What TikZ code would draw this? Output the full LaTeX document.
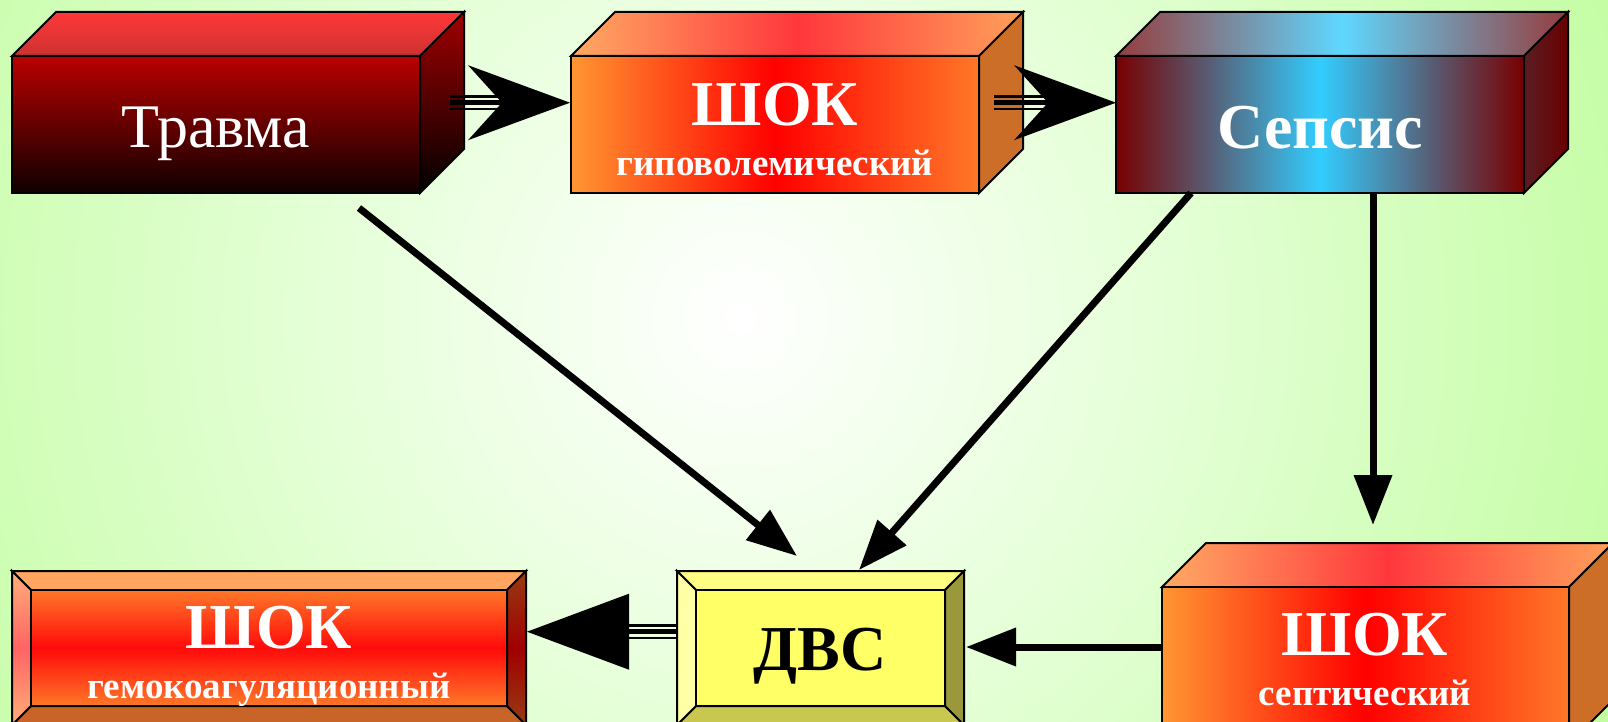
\documentclass[tikz,border=0pt]{standalone}
\usepackage{fontspec}
\setmainfont{Liberation Serif}
\usetikzlibrary{arrows.meta}
\definecolor{bggreen}{RGB}{170,250,122}
\definecolor{bgout}{RGB}{182,252,142}
\definecolor{bgmid}{RGB}{228,255,214}
\definecolor{trA}{RGB}{185,0,0}
\definecolor{trB}{RGB}{15,0,0}
\definecolor{trTopA}{RGB}{255,55,55}
\definecolor{trTopB}{RGB}{205,50,50}
\definecolor{trSide}{RGB}{160,0,0}
\definecolor{orL}{RGB}{255,150,50}
\definecolor{orM}{RGB}{255,0,0}
\definecolor{orR}{RGB}{255,120,40}
\definecolor{orTL}{RGB}{255,170,100}
\definecolor{orTM}{RGB}{255,55,60}
\definecolor{orTR}{RGB}{255,160,90}
\definecolor{orSide}{RGB}{205,110,40}
\definecolor{seE}{RGB}{120,0,0}
\definecolor{seM}{RGB}{50,205,255}
\definecolor{seTE}{RGB}{150,60,60}
\definecolor{seTM}{RGB}{95,215,255}
\definecolor{seSA}{RGB}{90,30,35}
\definecolor{seSB}{RGB}{105,0,0}
\definecolor{gmIE}{RGB}{255,120,40}
\definecolor{gmIM}{RGB}{255,10,10}
\definecolor{gmTop}{RGB}{255,165,95}
\definecolor{gmLE}{RGB}{255,175,120}
\definecolor{gmLM}{RGB}{255,100,100}
\definecolor{gmRE}{RGB}{150,60,20}
\definecolor{gmRM}{RGB}{160,0,0}
\definecolor{gmBot}{RGB}{200,100,40}
\definecolor{yIn}{RGB}{255,255,102}
\definecolor{yTop}{RGB}{255,255,130}
\definecolor{yLeft}{RGB}{255,255,165}
\definecolor{yRight}{RGB}{153,153,60}
\definecolor{yBot}{RGB}{200,200,80}
\pgfdeclareradialshading{bgshade}{\pgfpoint{0bp}{0bp}}{color(0bp)=(white); color(12bp)=(bgmid); color(32bp)=(bgout); color(44bp)=(bggreen); color(75bp)=(bggreen)}
\begin{document}
\begin{tikzpicture}[x=1pt,y=-1pt,
  face/.style={draw=black, line width=2pt, line join=miter},
  conn/.style={line width=7pt, -{Triangle[length=50pt,width=37pt]}},
  thinl/.style={line width=2.4pt},
  thickl/.style={line width=5.5pt},
  head/.style={fill=black},
  title/.style={text=white, font=\fontsize{64}{64}\selectfont\bfseries, anchor=base, inner sep=0pt},
  plain/.style={text=white, font=\fontsize{62}{62}\selectfont, anchor=base, inner sep=0pt},
  sub/.style={text=white, font=\fontsize{37}{37}\selectfont\bfseries, anchor=base, inner sep=0pt}]
\useasboundingbox (0,0) rectangle (1608,722);
\begin{scope}
\clip (0,0) rectangle (1608,722);
\shade[shading=bgshade] (-160,-582) rectangle (1640,1218);

% Travma box
\shade[face, top color=trTopA, bottom color=trTopB] (12,56) -- (56,12) -- (464,12) -- (420,56) -- cycle;
\shade[face, top color=trSide, bottom color=black] (420,56) -- (464,12) -- (464,149) -- (420,193) -- cycle;
\shade[face, top color=trA, bottom color=trB] (12,56) rectangle (420,193);
\node[plain] (trauma) at (216,148) {Травма};

% Shock hypovolemic box
\shade[face, left color=orTL, right color=orTR, middle color=orTM] (571,56) -- (615,12) -- (1023,12) -- (979,56) -- cycle;
\fill[face, fill=orSide] (979,56) -- (1023,12) -- (1023,149) -- (979,193) -- cycle;
\shade[face, left color=orL, right color=orR, middle color=orM] (571,56) rectangle (979,193);
\node[title] (shockA) at (775,126) {ШОК};
\node[sub] (shockAsub) at (775,176) {гиповолемический};

% Sepsis box
\shade[face, left color=seTE, right color=seTE, middle color=seTM] (1116,56) -- (1160,12) -- (1568,12) -- (1524,56) -- cycle;
\shade[face, left color=seSA, right color=seSB] (1524,56) -- (1568,12) -- (1568,149) -- (1524,193) -- cycle;
\shade[face, left color=seE, right color=seE, middle color=seM] (1116,56) rectangle (1524,193);
\node[title] (sepsis) at (1320,149) {Сепсис};

% Shock septic box
\shade[face, left color=orTL, right color=orTR, middle color=orTM] (1162,587) -- (1206,543) -- (1613,543) -- (1569,587) -- cycle;
\fill[face, fill=orSide] (1569,587) -- (1613,543) -- (1613,700) -- (1569,744) -- cycle;
\shade[face, left color=orL, right color=orR, middle color=orM] (1162,587) rectangle (1569,744);
\node[title] (shockC) at (1365,655) {ШОК};
\node[sub] (shockCsub) at (1365,705) {септический};

% Shock hemocoagulation box (bevel)
\fill[face, fill=gmTop] (12,571) -- (526,571) -- (507,590) -- (31,590) -- cycle;
\fill[face, fill=gmBot] (12,725) -- (526,725) -- (507,706) -- (31,706) -- cycle;
\shade[face, top color=gmLE, bottom color=gmLE, middle color=gmLM] (12,571) -- (31,590) -- (31,706) -- (12,725) -- cycle;
\shade[face, top color=gmRE, bottom color=gmRE, middle color=gmRM] (526,571) -- (507,590) -- (507,706) -- (526,725) -- cycle;
\shade[face, top color=gmIE, bottom color=gmIE, middle color=gmIM] (31,590) rectangle (507,706);
\node[title] (shockB) at (269,648) {ШОК};
\node[sub] (shockBsub) at (269,698) {гемокоагуляционный};

% DVS box (bevel)
\fill[face, fill=yTop] (677,571) -- (964,571) -- (945,590) -- (696,590) -- cycle;
\fill[face, fill=yBot] (677,725) -- (964,725) -- (945,706) -- (696,706) -- cycle;
\fill[face, fill=yLeft] (677,571) -- (696,590) -- (696,706) -- (677,725) -- cycle;
\fill[face, fill=yRight] (964,571) -- (945,590) -- (945,706) -- (964,725) -- cycle;
\fill[face, fill=yIn] (696,590) rectangle (945,706);
\node[title, text=black] (dvs) at (820,670) {ДВС};

% connector end points
\coordinate (a1s) at (450,102.7);
\coordinate (a1n) at (502,102.7);
\coordinate (a1t) at (570,102.7);
\coordinate (a2s) at (994,102.7);
\coordinate (a2n) at (1048,102.7);
\coordinate (a2t) at (1116,102.7);
\coordinate (a3s) at (359,208);
\coordinate (a3t) at (797,556);
\coordinate (a4s) at (1191,193);
\coordinate (a4t) at (859,570);
\coordinate (a5s) at (1373,193);
\coordinate (a5t) at (1373,525);
\coordinate (a6s) at (1162,647);
\coordinate (a6t) at (966,647);
\coordinate (a7s) at (677,631.7);
\coordinate (a7n) at (629,631.7);
\coordinate (a7t) at (527,631.7);

% Travma -> Shock (triple line)
\draw[thinl] ([yshift=6.3pt]a1s) -- ([yshift=6.3pt]a1n);
\draw[thickl] (a1s) -- (a1n);
\draw[thinl] ([yshift=-6.3pt]a1s) -- ([yshift=-6.3pt]a1n);
\fill[head] (a1t) -- ([shift={(-102,-37.5)}]a1t) -- (a1n) -- ([shift={(-102,37.5)}]a1t) -- cycle;

% Shock -> Sepsis (triple line)
\draw[thinl] ([yshift=6.3pt]a2s) -- ([yshift=6.3pt]a2n);
\draw[thickl] (a2s) -- (a2n);
\draw[thinl] ([yshift=-6.3pt]a2s) -- ([yshift=-6.3pt]a2n);
\fill[head] (a2t) -- ([shift={(-102,-37.5)}]a2t) -- (a2n) -- ([shift={(-102,37.5)}]a2t) -- cycle;

% single arrows
\draw[conn] (a3s) -- (a3t);
\draw[conn] (a4s) -- (a4t);
\draw[conn] (a5s) -- (a5t);
\draw[conn] (a6s) -- (a6t);

% DVS -> Shock hemocoagulation (triple line)
\draw[thinl] ([yshift=6.3pt]a7s) -- ([yshift=6.3pt]a7n);
\draw[thickl] (a7s) -- (a7n);
\draw[thinl] ([yshift=-6.3pt]a7s) -- ([yshift=-6.3pt]a7n);
\fill[head] (a7t) -- ([shift={(102,-38)}]a7t) -- ([shift={(102,38)}]a7t) -- cycle;
\end{scope}
\end{tikzpicture}
\end{document}
